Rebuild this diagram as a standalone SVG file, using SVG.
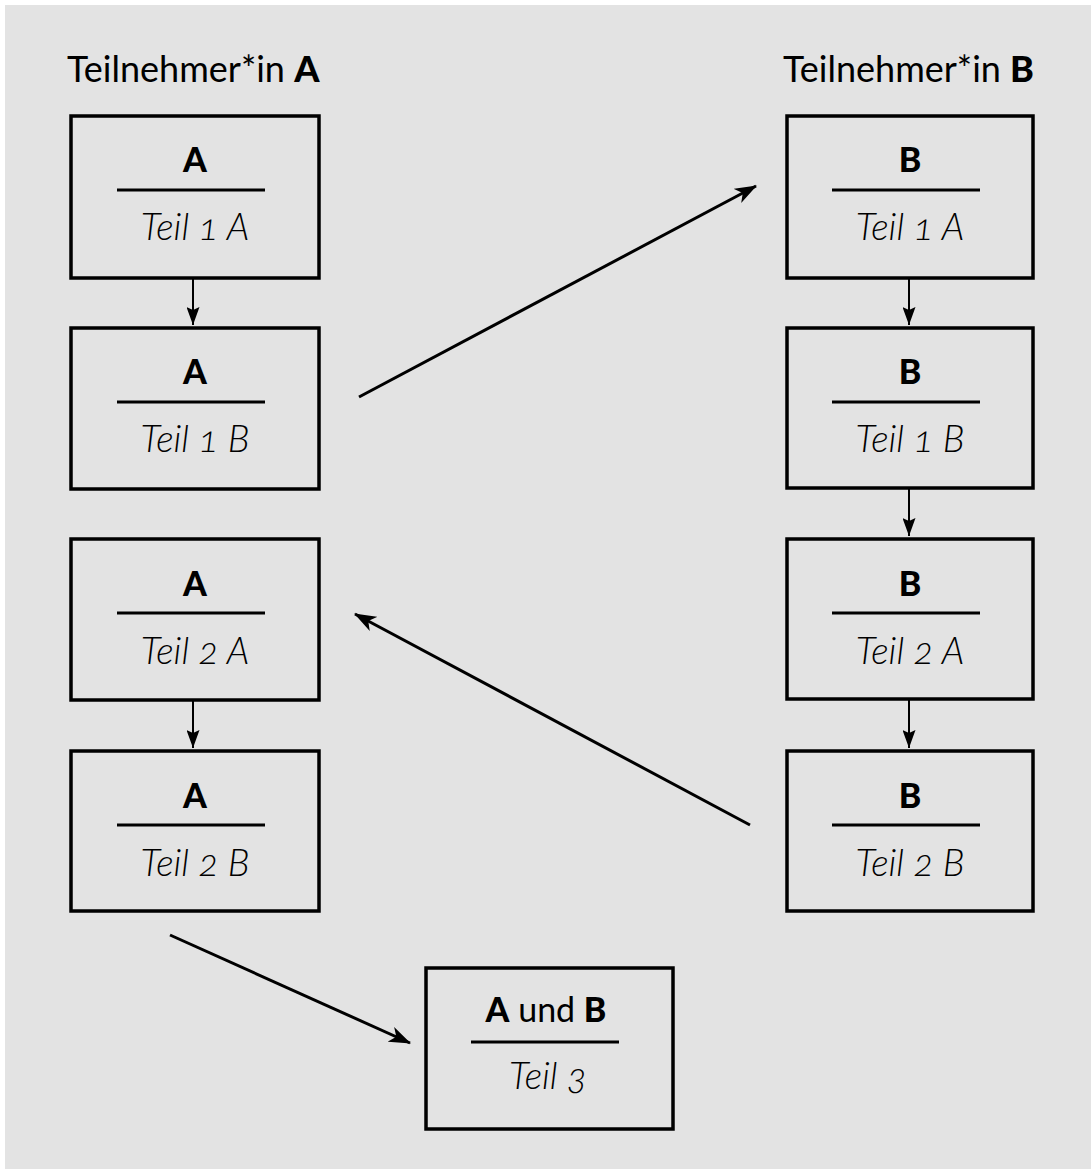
<svg xmlns="http://www.w3.org/2000/svg" width="1091" height="1169" viewBox="0 0 1091 1169">
<defs>
<style>
.bg{fill:#e3e3e3}
.box{fill:none;stroke:#000;stroke-width:3.5}
.div{stroke:#000;stroke-width:3}
.t{font-family:Lato,"Open Sans","Liberation Sans",sans-serif;fill:#000;font-variant-numeric:oldstyle-nums}
.hd{font-size:36px;font-weight:400}
.ttl{font-size:34px;font-weight:900}
.sub{font-size:37px;font-style:italic;font-weight:300}
.c{stroke:#000;fill:none}
.v{stroke-width:2}
.d{stroke-width:3}
</style>
<marker id="ah" viewBox="0 0 22 16" refX="21" refY="8" markerWidth="22" markerHeight="16" markerUnits="userSpaceOnUse" orient="auto">
<path d="M0,0 L22,8 L0,16 L6,8 z" fill="#000"/>
</marker>
<marker id="ahs" viewBox="0 0 13 18" refX="6.5" refY="18" markerWidth="13" markerHeight="18" markerUnits="userSpaceOnUse" orient="0">
<path d="M0,0 L6.5,18 L13,0 L6.5,3 z" fill="#000"/>
</marker>
</defs>
<rect class="bg" x="5" y="5" width="1086" height="1164"/>
<text class="t hd" x="67" y="82">Teilnehmer*in <tspan font-weight="900">A</tspan></text>
<text class="t hd" x="1034" y="82" text-anchor="end">Teilnehmer*in <tspan font-weight="900">B</tspan></text>

<g id="a1"><rect class="box" x="71" y="116" width="248" height="162"/><text class="t ttl" x="195" y="172" text-anchor="middle">A</text><line class="div" x1="117" y1="190" x2="265" y2="190"/><text class="t sub" x="195" y="240" text-anchor="middle">Teil 1 A</text></g>
<g id="a2"><rect class="box" x="71" y="328" width="248" height="161"/><text class="t ttl" x="195" y="384" text-anchor="middle">A</text><line class="div" x1="117" y1="402" x2="265" y2="402"/><text class="t sub" x="195" y="452" text-anchor="middle">Teil 1 B</text></g>
<g id="a3"><rect class="box" x="71" y="539" width="248" height="161"/><text class="t ttl" x="195" y="596" text-anchor="middle">A</text><line class="div" x1="117" y1="613" x2="265" y2="613"/><text class="t sub" x="195" y="664" text-anchor="middle">Teil 2 A</text></g>
<g id="a4"><rect class="box" x="71" y="751" width="248" height="160"/><text class="t ttl" x="195" y="808" text-anchor="middle">A</text><line class="div" x1="117" y1="825" x2="265" y2="825"/><text class="t sub" x="195" y="876" text-anchor="middle">Teil 2 B</text></g>

<g id="b1"><rect class="box" x="787" y="116" width="246" height="162"/><text class="t ttl" x="910" y="172" text-anchor="middle">B</text><line class="div" x1="832" y1="190" x2="980" y2="190"/><text class="t sub" x="910" y="240" text-anchor="middle">Teil 1 A</text></g>
<g id="b2"><rect class="box" x="787" y="328" width="246" height="160"/><text class="t ttl" x="910" y="384" text-anchor="middle">B</text><line class="div" x1="832" y1="402" x2="980" y2="402"/><text class="t sub" x="910" y="452" text-anchor="middle">Teil 1 B</text></g>
<g id="b3"><rect class="box" x="787" y="539" width="246" height="160"/><text class="t ttl" x="910" y="596" text-anchor="middle">B</text><line class="div" x1="832" y1="613" x2="980" y2="613"/><text class="t sub" x="910" y="664" text-anchor="middle">Teil 2 A</text></g>
<g id="b4"><rect class="box" x="787" y="751" width="246" height="160"/><text class="t ttl" x="910" y="808" text-anchor="middle">B</text><line class="div" x1="832" y1="825" x2="980" y2="825"/><text class="t sub" x="910" y="876" text-anchor="middle">Teil 2 B</text></g>

<g id="ab"><rect class="box" x="426" y="968" width="247" height="161"/><text class="t ttl" x="546" y="1022" text-anchor="middle">A<tspan font-weight="400"> und </tspan>B</text><line class="div" x1="471" y1="1042" x2="619" y2="1042"/><text class="t sub" x="548" y="1089" text-anchor="middle">Teil 3</text></g>

<g id="connectors">
<line class="c v" x1="193" y1="278" x2="193" y2="325" marker-end="url(#ahs)"/>
<line class="c v" x1="193" y1="700" x2="193" y2="748" marker-end="url(#ahs)"/>
<line class="c v" x1="909" y1="278" x2="909" y2="325" marker-end="url(#ahs)"/>
<line class="c v" x1="909" y1="488" x2="909" y2="536" marker-end="url(#ahs)"/>
<line class="c v" x1="909" y1="699" x2="909" y2="748" marker-end="url(#ahs)"/>
<line class="c d" x1="359" y1="397" x2="756" y2="186" marker-end="url(#ah)"/>
<line class="c d" x1="750" y1="825" x2="355" y2="614" marker-end="url(#ah)"/>
<line class="c d" x1="170" y1="935" x2="410" y2="1043" marker-end="url(#ah)"/>
</g>
</svg>
